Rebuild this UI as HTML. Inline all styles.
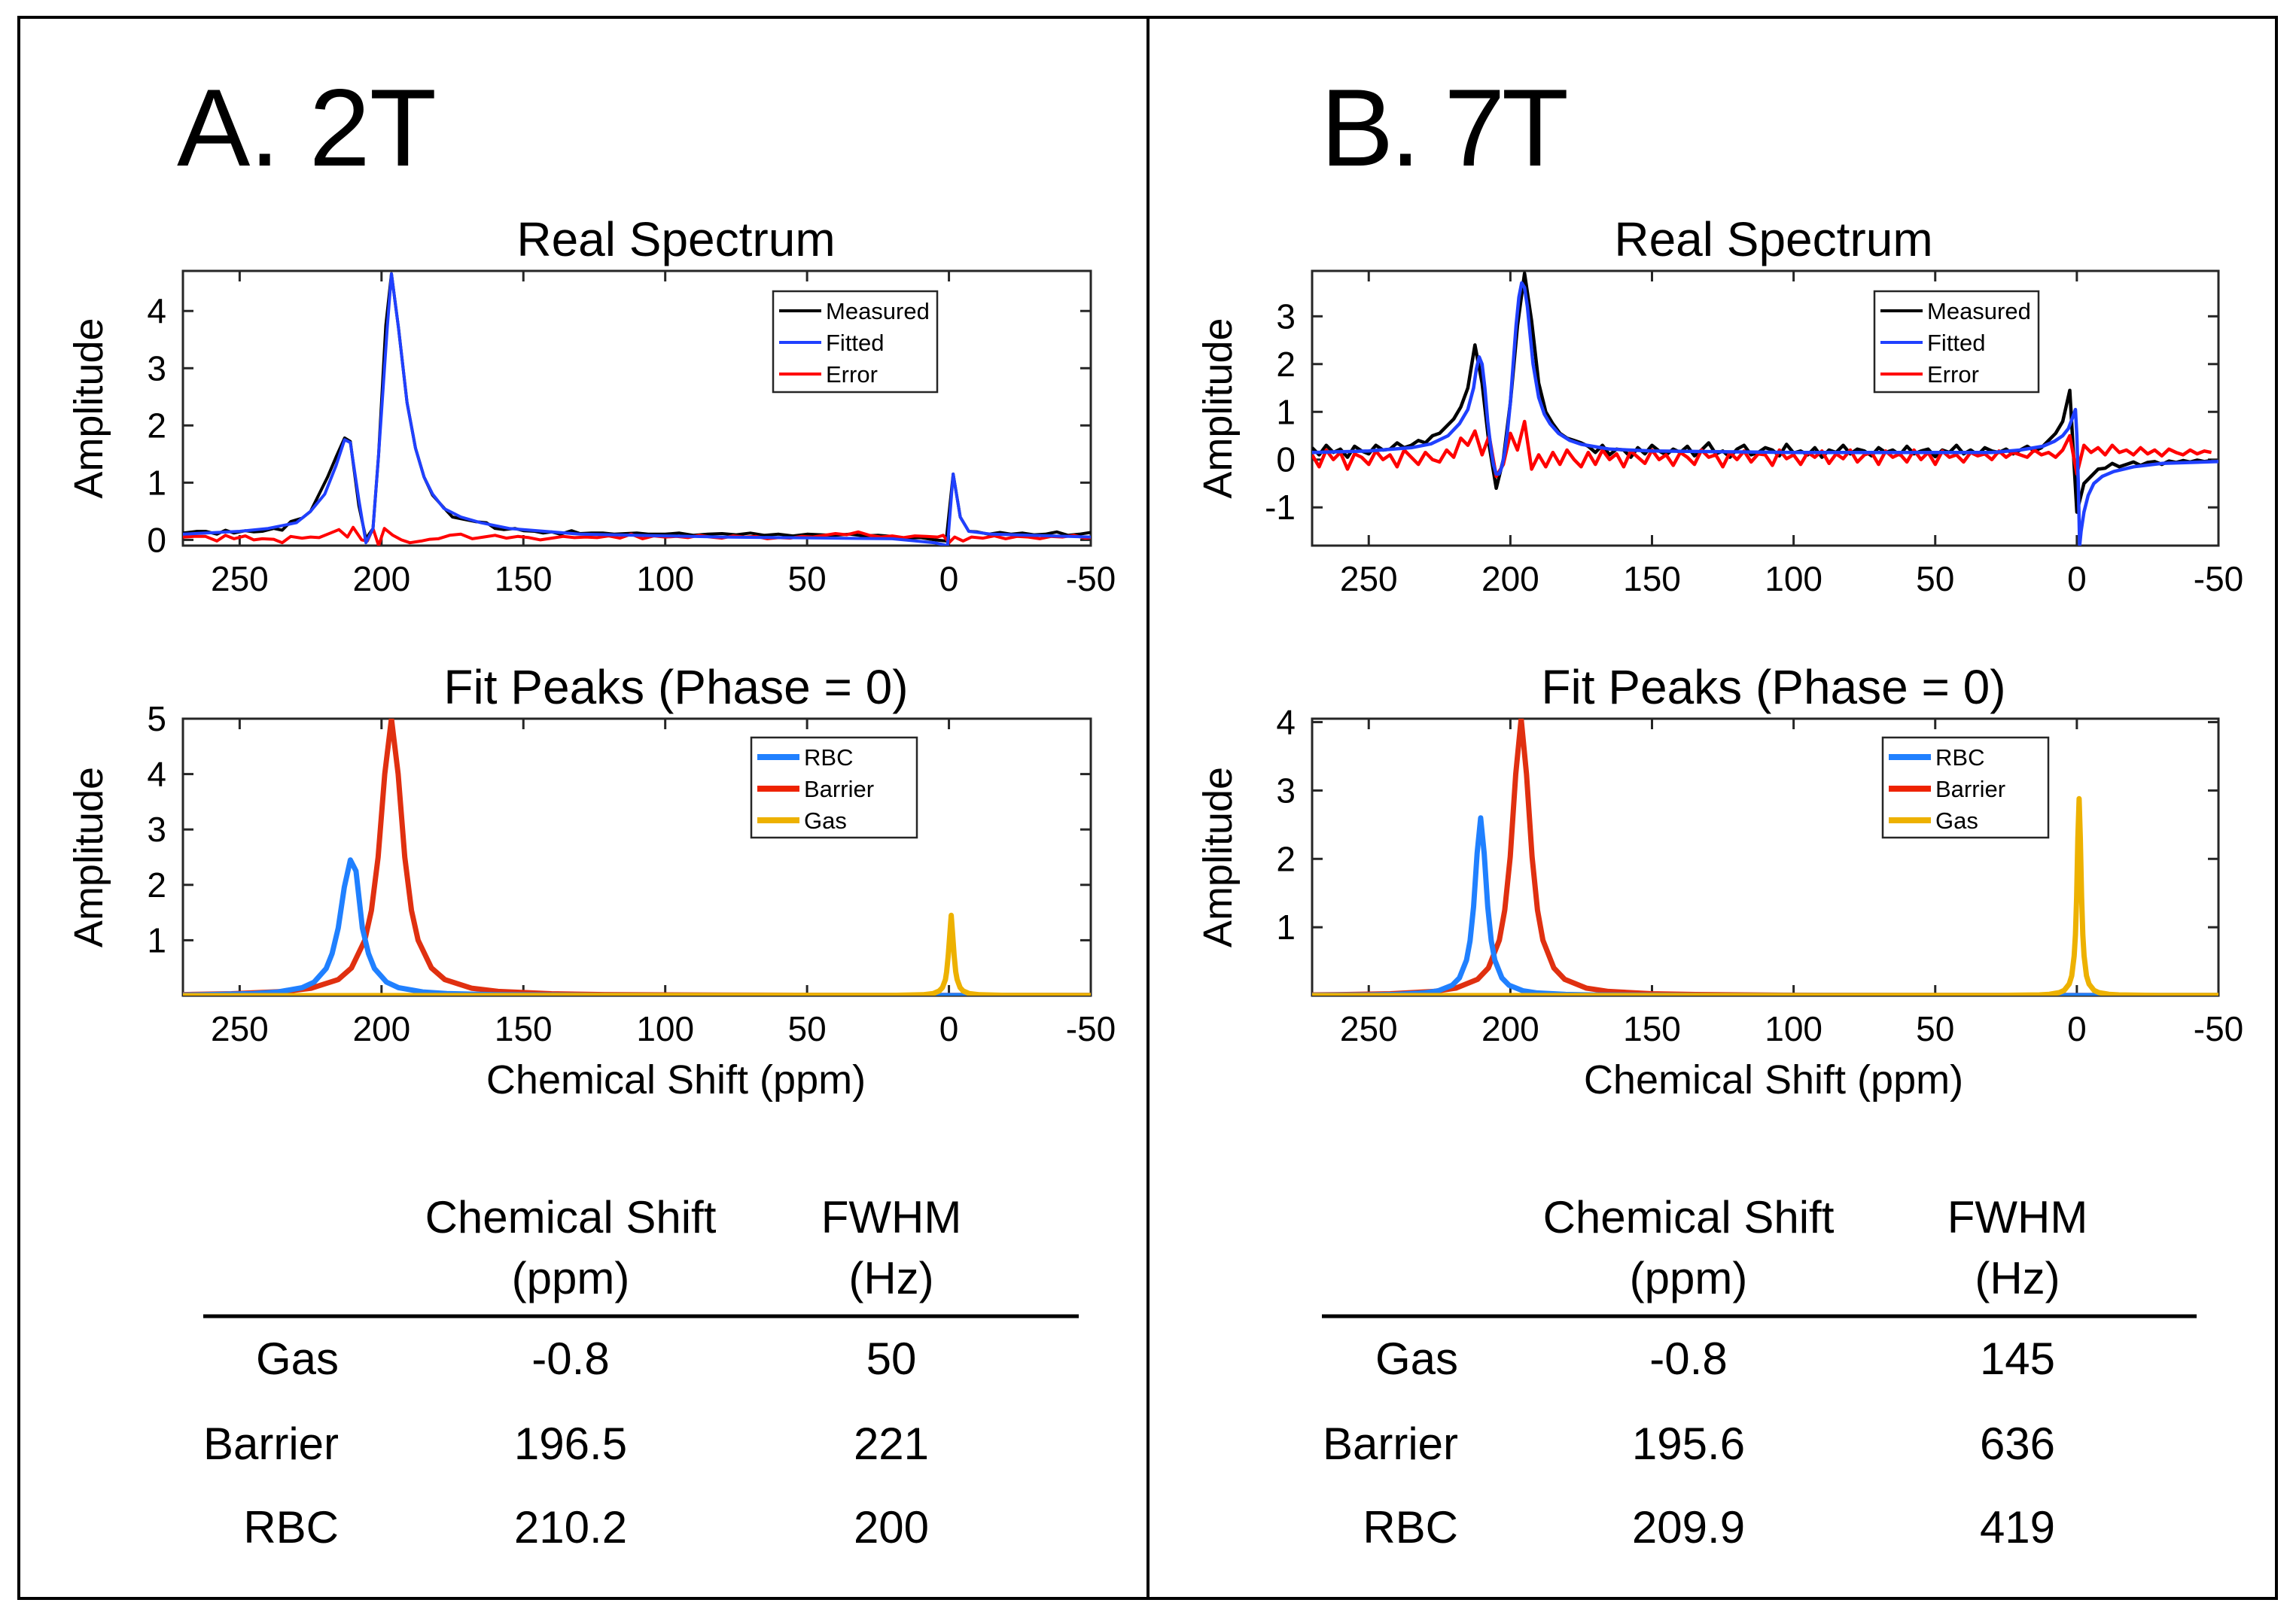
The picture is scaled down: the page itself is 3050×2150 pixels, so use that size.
<!DOCTYPE html>
<html><head><meta charset="utf-8">
<style>
html,body{margin:0;padding:0;background:#fff;}
svg{display:block;font-family:"Liberation Sans Narrow","Liberation Sans",sans-serif;}
.tbl{font-family:"Liberation Sans",sans-serif;}
</style></head>
<body>
<svg id="fig" width="3050" height="2150" viewBox="0 0 3050 2150" xmlns="http://www.w3.org/2000/svg">
<rect x="25" y="23" width="2999" height="2101" fill="none" stroke="#000" stroke-width="4"/>
<line x1="1525" y1="23" x2="1525" y2="2124" stroke="#000" stroke-width="4"/>
<text x="235" y="220" font-family="Liberation Sans, sans-serif" font-size="146" textLength="345">A. 2T</text>
<text x="1754" y="220" font-family="Liberation Sans, sans-serif" font-size="146" textLength="330">B. 7T</text>
<g id="charts"></g>
<g class="tbl" font-size="60" text-anchor="middle">
<text x="758" y="1638">Chemical Shift</text>
<text x="758" y="1719">(ppm)</text>
<text x="1184" y="1638">FWHM</text>
<text x="1184" y="1719">(Hz)</text>
<line x1="270" y1="1749" x2="1433" y2="1749" stroke="#000" stroke-width="5"/>
<text x="450" y="1826" text-anchor="end">Gas</text>
<text x="758" y="1826">-0.8</text>
<text x="1184" y="1826">50</text>
<text x="450" y="1939" text-anchor="end">Barrier</text>
<text x="758" y="1939">196.5</text>
<text x="1184" y="1939">221</text>
<text x="450" y="2050" text-anchor="end">RBC</text>
<text x="758" y="2050">210.2</text>
<text x="1184" y="2050">200</text>
</g>
<g class="tbl" font-size="60" text-anchor="middle">
<text x="2243" y="1638">Chemical Shift</text>
<text x="2243" y="1719">(ppm)</text>
<text x="2680" y="1638">FWHM</text>
<text x="2680" y="1719">(Hz)</text>
<line x1="1756" y1="1749" x2="2918" y2="1749" stroke="#000" stroke-width="5"/>
<text x="1937" y="1826" text-anchor="end">Gas</text>
<text x="2243" y="1826">-0.8</text>
<text x="2680" y="1826">145</text>
<text x="1937" y="1939" text-anchor="end">Barrier</text>
<text x="2243" y="1939">195.6</text>
<text x="2680" y="1939">636</text>
<text x="1937" y="2050" text-anchor="end">RBC</text>
<text x="2243" y="2050">209.9</text>
<text x="2680" y="2050">419</text>
</g>
</svg>
<script>
// ---------- data ----------
const xTicks = [250, 200, 150, 100, 50, 0, -50];
const xTickLabels = ["250", "200", "150", "100", "50", "0", "-50"];
const ticks2TReal = [0, 1, 2, 3, 4];
const ticks7TReal = [-1, 0, 1, 2, 3];
const ticks2TFit = [1, 2, 3, 4, 5];
const ticks7TFit = [1, 2, 3, 4];

// 2T real spectrum
const x2TMeas = [270,265,262,258,255,252,248,245,242,238,235,232,228,225,222,219,216,213,211,208,205.5,203,201,198.5,196.5,194,191,188,185,182,178,175,170,167,163,160,157,153,150,146,143,140,137,133,130,126,122,118,114,110,106,100,95,90,85,80,75,70,65,60,55,50,45,40,35,30,25,20,15,10,5,1,-1.5,-4,-7,-10,-14,-18,-22,-26,-30,-34,-38,-42,-46,-50];
const y2TMeas = [0.12,0.15,0.15,0.1,0.17,0.12,0.16,0.14,0.15,0.2,0.17,0.32,0.38,0.5,0.8,1.1,1.45,1.78,1.72,0.6,0.02,0.2,1.5,3.75,4.65,3.7,2.4,1.6,1.1,0.78,0.56,0.4,0.35,0.32,0.3,0.2,0.18,0.2,0.16,0.15,0.12,0.14,0.1,0.16,0.11,0.12,0.12,0.1,0.11,0.12,0.1,0.1,0.12,0.08,0.1,0.11,0.09,0.12,0.08,0.1,0.07,0.1,0.09,0.08,0.1,0.07,0.08,0.06,0.03,0.04,0.0,-0.02,1.15,0.4,0.15,0.14,0.1,0.13,0.1,0.12,0.09,0.1,0.14,0.08,0.1,0.13,0.06];
const x2TFit = [270,250,240,230,225,220,216,213,211,208,205.5,203,201,198,196.5,194,191,188,185,182,178,172,165,155,130,80,20,5,0.5,-1.5,-4,-7,-15,-50];
const y2TFit = [0.1,0.15,0.2,0.3,0.5,0.8,1.3,1.75,1.7,0.7,-0.05,0.2,1.5,3.7,4.65,3.7,2.4,1.6,1.1,0.8,0.55,0.4,0.3,0.2,0.1,0.05,0.02,-0.05,-0.1,1.15,0.4,0.15,0.1,0.05];
const x2TErr = [270,266,262,258,255,252,248,245,242,238,235,232,228,225,222,218,215,212,210,207,205,203,201,199,196,193,190,186,183,180,176,172,168,164,160,156,152,148,144,140,136,132,128,124,120,116,112,108,104,100,96,92,88,84,80,76,72,68,64,60,56,52,48,44,40,36,32,28,24,20,16,12,8,4,2,0,-2,-5,-8,-12,-16,-20,-24,-28,-32,-36,-40,-44,-48,-50];
const y2TErr = [0.05,0.06,0.06,-0.02,0.08,0.02,0.07,0.0,0.02,0.01,-0.05,0.06,0.03,0.05,0.04,0.12,0.18,0.05,0.22,0.0,-0.02,0.2,-0.1,0.2,0.08,0.0,-0.05,-0.02,0.01,0.02,0.08,0.1,0.02,0.05,0.08,0.03,0.06,0.04,0.0,0.03,0.06,0.04,0.05,0.04,0.07,0.03,0.1,0.02,0.07,0.05,0.06,0.04,0.08,0.05,0.03,0.07,0.05,0.06,0.02,0.04,0.03,0.06,0.05,0.08,0.11,0.09,0.14,0.08,0.05,0.07,0.04,0.07,0.06,0.05,0.08,-0.05,0.05,-0.02,0.05,0.03,0.07,0.02,0.06,0.05,0.02,0.06,0.05,0.08,0.03,0.04];

// 2T fit peaks
const x2TRbc = [270,262,245,236.5,228,223.75,219.5,217.4,215.25,213.1,211,209,206.75,204.6,202.5,198.25,194,185.5,177,160,120,50,-50];
const y2TRbc = [0.01,0.017,0.037,0.066,0.144,0.245,0.49,0.76,1.22,1.96,2.45,2.25,1.22,0.76,0.49,0.245,0.144,0.066,0.037,0.017,0.006,0.002,0.001];
const x2TBar = [270,252.9,234.1,224.7,215.3,210.6,205.9,203.55,201.2,198.85,196.5,194.15,191.8,189.45,187.1,182.4,177.7,168.3,158.9,140.1,121.5,80,30,-50];
const y2TBar = [0.019,0.034,0.076,0.135,0.29,0.5,1.0,1.54,2.5,4.0,5.0,4.0,2.5,1.54,1.0,0.5,0.29,0.135,0.076,0.034,0.019,0.009,0.004,0.003];
const x2TGas = [270,20,9.2,5.5,3.4,2.3,1.25,0.8,0.25,-0.3,-0.8,-1.3,-1.85,-2.4,-2.9,-3.95,-5,-7.1,-10.8,-20,-50];
const y2TGas = [0,0.005,0.016,0.038,0.085,0.145,0.29,0.43,0.72,1.1,1.45,1.1,0.72,0.43,0.29,0.145,0.085,0.038,0.016,0.005,0.001];

// 7T real spectrum (grid 270 -> -50 step 2.5)
const x7TStart = 270, x7TStep = -2.5;
const y7TMeas = [0.25,0.1,0.3,0.15,0.22,0.05,0.28,0.18,0.12,0.3,0.2,0.22,0.35,0.25,0.3,0.4,0.35,0.5,0.55,0.7,0.85,1.1,1.5,2.4,1.6,0.3,-0.6,0.0,1.2,2.8,3.9,2.9,1.6,1.0,0.75,0.55,0.45,0.4,0.35,
0.28,0.15,0.3,0.1,0.22,0.2,0.05,0.25,0.12,0.3,0.18,0.1,0.22,0.15,0.28,0.08,0.2,0.35,0.12,0.18,0.05,0.22,0.3,0.1,0.15,0.25,0.2,0.08,0.32,0.14,0.18,0.1,0.25,0.05,0.2,0.15,0.3,0.12,0.22,0.18,0.08,0.25,0.15,0.2,0.1,0.28,0.12,0.18,0.22,0.06,0.2,0.15,0.3,0.12,0.2,0.1,0.25,0.18,0.15,0.22,0.12,0.2,0.28,0.18,0.25,
0.4,0.55,0.8,1.45,-1.1,-0.5,-0.35,-0.2,-0.18,-0.08,-0.15,-0.1,-0.05,-0.12,-0.06,-0.04,-0.1,-0.03,-0.06,-0.02,-0.05,-0.01,-0.04,-0.02];
const y7TErr = [0.1,-0.15,0.2,0.0,0.15,-0.2,0.12,0.05,-0.1,0.18,0.0,0.1,-0.15,0.2,0.05,-0.1,0.15,0.0,-0.05,0.2,0.05,0.45,0.3,0.6,0.1,0.5,-0.35,-0.1,0.55,0.2,0.8,-0.2,0.1,-0.15,0.15,-0.1,0.2,0.0,-0.15,
0.15,-0.1,0.2,0.0,0.12,-0.15,0.18,0.05,-0.08,0.2,0.0,0.1,-0.12,0.15,0.05,-0.1,0.2,0.05,0.1,-0.15,0.15,0.0,0.18,-0.05,0.12,0.1,-0.12,0.2,0.02,0.1,-0.1,0.15,0.05,0.18,-0.08,0.12,0.02,0.2,-0.05,0.1,0.15,-0.1,0.18,0.05,0.12,-0.05,0.2,0.0,0.15,-0.1,0.18,0.05,0.1,-0.05,0.15,0.08,0.12,0.0,0.18,0.05,0.15,0.1,0.05,0.2,0.1,
0.15,0.05,0.2,0.5,-0.3,0.3,0.15,0.25,0.1,0.3,0.15,0.2,0.1,0.25,0.12,0.2,0.08,0.22,0.15,0.1,0.2,0.12,0.18,0.15];
const x7TFit = [270,250,235,228,222,218,215,213,212,211,210,209,208,207,206,205,204,203,202,201,200,199,198,197,196,195,194,193,192,190,188,186,183,179,175,165,150,100,30,20,12,8,5,3,1.5,0.5,0,-0.5,-1,-1.5,-2.5,-4,-6,-9,-13,-20,-30,-50];
const y7TFit = [0.15,0.18,0.25,0.33,0.5,0.75,1.05,1.5,1.9,2.15,2.0,1.5,0.8,0.3,-0.1,-0.3,-0.3,-0.15,0.15,0.6,1.2,2.0,2.8,3.4,3.7,3.6,3.2,2.6,2.0,1.3,0.95,0.75,0.55,0.4,0.32,0.22,0.18,0.15,0.15,0.2,0.28,0.38,0.5,0.65,0.88,1.05,0.5,-0.5,-1.8,-1.5,-1.1,-0.75,-0.5,-0.35,-0.25,-0.15,-0.08,-0.04];

// 7T fit peaks
const x7TRbc = [270,250.5,240.5,230.5,225.5,220.5,218,215.5,214.25,213,211.75,210.5,209.25,208,206.75,205.5,203,200.5,195.5,190.5,180.5,170.5,130,50,-50];
const y7TRbc = [0.005,0.01,0.018,0.04,0.07,0.153,0.26,0.52,0.8,1.3,2.08,2.6,2.08,1.3,0.8,0.52,0.26,0.153,0.07,0.04,0.018,0.01,0.003,0.001,0.001];
const x7TBar = [270,257.8,242.4,227,219.3,211.6,207.75,203.9,201.98,200.05,198.1,196.2,194.3,192.35,190.42,188.5,184.65,180.8,173.1,165.4,150,134.6,103.8,60,20,0,-50];
const y7TBar = [0.011,0.016,0.028,0.062,0.109,0.238,0.405,0.81,1.25,2.03,3.24,4.05,3.24,2.03,1.25,0.81,0.405,0.238,0.109,0.062,0.028,0.016,0.007,0.003,0.002,0.002,0.001];
const x7TGas = [270,50,27.2,13.2,9.7,6.2,4.45,2.7,1.8,0.95,0.51,0.075,-0.36,-0.8,-1.24,-1.675,-2.11,-2.55,-3.4,-4.3,-6.05,-7.8,-11.3,-14.8,-28.8,-50];
const y7TGas = [0.001,0.002,0.003,0.011,0.02,0.044,0.078,0.17,0.29,0.58,0.89,1.44,2.3,2.88,2.3,1.44,0.89,0.58,0.29,0.17,0.078,0.044,0.02,0.011,0.003,0.002];

// ---------- drawing ----------
const NS = "http://www.w3.org/2000/svg";
const root = document.getElementById("charts");
function mk(tag, attrs, parent) {
  const e = document.createElementNS(NS, tag);
  for (const k in attrs) e.setAttribute(k, attrs[k]);
  (parent || root).appendChild(e);
  return e;
}
function makeAxes(cfg) {
  const g = mk("g", {});
  
  
  const L = cfg.x0, R = cfg.x1, T = cfg.y0, B = cfg.y1;
  const sx = v => L + (270 - v) / 320 * (R - L);
  const sy = v => B - (v - cfg.ymin) / (cfg.ymax - cfg.ymin) * (B - T);
  const frame = mk("rect", {x: L, y: T, width: R - L, height: B - T, fill: "none", stroke: "#262626", "stroke-width": 3}, g);
  
  
  xTicks.forEach((t, i) => {
    const x = sx(t);
    mk("line", {x1: x, y1: B, x2: x, y2: B - 14, stroke: "#262626", "stroke-width": 3}, g);
    mk("line", {x1: x, y1: T, x2: x, y2: T + 14, stroke: "#262626", "stroke-width": 3}, g);
    const tl = mk("text", {x: x, y: B + 60, "font-size": 46, "text-anchor": "middle"}, g);
    tl.textContent = xTickLabels[i];
    
    
  });
  cfg.yTicks.forEach(t => {
    const y = sy(t);
    mk("line", {x1: L, y1: y, x2: L + 14, y2: y, stroke: "#262626", "stroke-width": 3}, g);
    mk("line", {x1: R, y1: y, x2: R - 14, y2: y, stroke: "#262626", "stroke-width": 3}, g);
    const tl = mk("text", {x: L - 22, y: y + 16, "font-size": 46, "text-anchor": "end"}, g);
    tl.textContent = String(t);
    
    
  });
  const ttl = mk("text", {x: cfg.cx, y: T - 20, "font-size": 64, "text-anchor": "middle"}, g);
  ttl.textContent = cfg.title;
  
  
  const yl = mk("text", {x: 0, y: 0, "font-size": 54, "text-anchor": "middle", "font-family": "Liberation Sans, sans-serif", transform: `translate(${cfg.ylx},${(T + B) / 2}) rotate(-90)`}, g);
  yl.textContent = "Amplitude";
  
  
  if (cfg.xlabel) {
    const xl = mk("text", {x: cfg.cx, y: B + 130, "font-size": 54, "text-anchor": "middle", "font-family": "Liberation Sans, sans-serif"}, g);
    xl.textContent = "Chemical Shift (ppm)";
    
    
  }
  const clipId = "clip-" + cfg.name;
  const cp = mk("clipPath", {id: clipId}, g);
  mk("rect", {x: L, y: T, width: R - L, height: B - T}, cp);
  const plotG = mk("g", {"clip-path": `url(#${clipId})`}, g);
  return {g, plotG, sx, sy, L, R, T, B};
}
function drawLine(ax, xs, ys, color, width, name) {
  const d = xs.map((x, i) => (i ? "L" : "M") + ax.sx(x).toFixed(1) + "," + ax.sy(ys[i]).toFixed(1)).join("");
  const p = mk("path", {d: d, fill: "none", stroke: color, "stroke-width": width, "stroke-linejoin": "round"}, ax.plotG);
  
  
}
function gridX(n) { const a = []; for (let i = 0; i < n; i++) a.push(x7TStart + x7TStep * i); return a; }
function legend(ax, x, y, w, h, entries, lw, name) {
  const lg = mk("g", {}, ax.g);
  
  
  mk("rect", {x: x, y: y, width: w, height: h, fill: "#fff", stroke: "#262626", "stroke-width": 2.5}, lg);
  entries.forEach((e, i) => {
    const cy = y + 26 + i * 42;
    mk("line", {x1: x + 8, y1: cy, x2: x + 64, y2: cy, stroke: e[1], "stroke-width": lw}, lg);
    const t = mk("text", {x: x + 70, y: cy + 11, "font-size": 31}, lg);
    t.textContent = e[0];
    
    
  });
}

// Panel A real
const a1 = makeAxes({name: "plot-2t-real", x0: 243, x1: 1449, y0: 360, y1: 725, ymin: -0.1, ymax: 4.7, yTicks: ticks2TReal, title: "Real Spectrum", cx: 898, ylx: 136});
drawLine(a1, x2TMeas, y2TMeas, "#000", 4, "measured-line");
drawLine(a1, x2TErr, y2TErr, "#ff0000", 4, "error-line");
drawLine(a1, x2TFit, y2TFit, "#2040ff", 4, "fitted-line");
legend(a1, 1027, 387, 218, 134, [["Measured", "#000"], ["Fitted", "#2040ff"], ["Error", "#ff0000"]], 4, "legend-2t-real");

// Panel A fit
const a2 = makeAxes({name: "plot-2t-fit", x0: 243, x1: 1449, y0: 955, y1: 1323, ymin: 0, ymax: 5.0, yTicks: ticks2TFit, title: "Fit Peaks (Phase = 0)", cx: 898, ylx: 136, xlabel: true});
drawLine(a2, x2TBar, y2TBar, "#e03010", 7, "barrier-line");
drawLine(a2, x2TRbc, y2TRbc, "#2080ff", 7, "rbc-line");
drawLine(a2, x2TGas, y2TGas, "#edb100", 7, "gas-line");
legend(a2, 998, 980, 220, 133, [["RBC", "#2080ff"], ["Barrier", "#ee2200"], ["Gas", "#edb100"]], 8, "legend-2t-fit");

// Panel B real
const b1 = makeAxes({name: "plot-7t-real", x0: 1743, x1: 2947, y0: 360, y1: 725, ymin: -1.8, ymax: 3.95, yTicks: ticks7TReal, title: "Real Spectrum", cx: 2356, ylx: 1636});
drawLine(b1, gridX(y7TMeas.length), y7TMeas, "#000", 4.5, "measured-line");
drawLine(b1, gridX(y7TErr.length), y7TErr, "#ff0000", 4.5, "error-line");
drawLine(b1, x7TFit, y7TFit, "#2040ff", 4.5, "fitted-line");
legend(b1, 2490, 387, 218, 134, [["Measured", "#000"], ["Fitted", "#2040ff"], ["Error", "#ff0000"]], 4, "legend-7t-real");

// Panel B fit
const b2 = makeAxes({name: "plot-7t-fit", x0: 1743, x1: 2947, y0: 955, y1: 1323, ymin: 0, ymax: 4.05, yTicks: ticks7TFit, title: "Fit Peaks (Phase = 0)", cx: 2356, ylx: 1636, xlabel: true});
drawLine(b2, x7TBar, y7TBar, "#e03010", 7, "barrier-line");
drawLine(b2, x7TRbc, y7TRbc, "#2080ff", 7, "rbc-line");
drawLine(b2, x7TGas, y7TGas, "#edb100", 7, "gas-line");
legend(b2, 2501, 980, 220, 133, [["RBC", "#2080ff"], ["Barrier", "#ee2200"], ["Gas", "#edb100"]], 8, "legend-7t-fit");
</script>
</body></html>
